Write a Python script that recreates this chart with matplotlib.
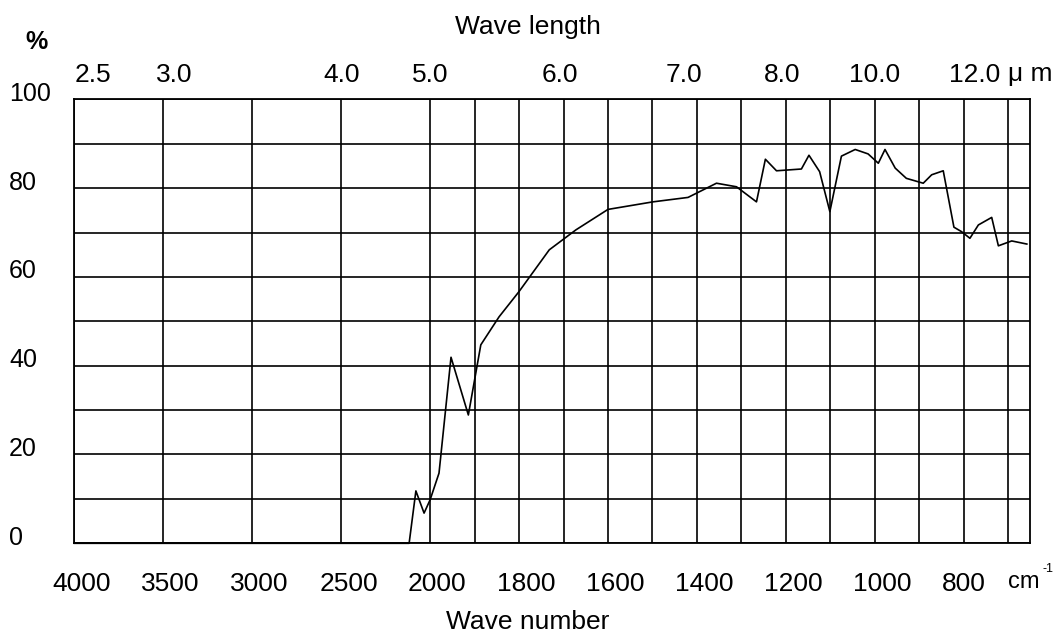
import numpy as np
import matplotlib.pyplot as plt
from matplotlib.transforms import ScaledTranslation

# IR transmission curve (wave number in cm-1, transmittance in %)
wave_number = [4000, 2118, 2080, 2034, 2000, 1980, 1953, 1914, 1886, 1845,
               1800, 1732, 1672, 1600, 1499, 1420, 1356, 1311, 1266, 1246,
               1221, 1165, 1148, 1124, 1101, 1075, 1044, 1015, 992, 977,
               954, 929, 891, 872, 846, 822, 805, 786, 767, 737,
               722, 692, 658]
transmittance = [0, 0, 11.8, 6.8, 9.8, 15.8, 41.9, 28.9, 44.7, 51.0,
                 56.7, 66.1, 70.6, 75.2, 76.9, 77.9, 81.1, 80.3, 76.9, 86.5,
                 83.9, 84.3, 87.4, 83.7, 74.7, 87.2, 88.7, 87.7, 85.6, 88.7,
                 84.5, 82.2, 81.1, 83.0, 83.9, 71.2, 70.2, 68.7, 71.7, 73.4,
                 67.0, 68.1, 67.4]

wn_ticks = [4000, 3500, 3000, 2500, 2000, 1800, 1600, 1400, 1200, 1000, 800]
wn_grid = [4000, 3500, 3000, 2500, 2000, 1900, 1800, 1700, 1600, 1500,
           1400, 1300, 1200, 1100, 1000, 900, 800, 700]
wl_ticks = [2.5, 3.0, 4.0, 5.0, 6.0, 7.0, 8.0, 10.0, 12.0]
pct_ticks = [0, 20, 40, 60, 80, 100]
pct_grid = [0, 10, 20, 30, 40, 50, 60, 70, 80, 90, 100]

# hand-placed wavelength labels sit a bit off their positions
wl_align = {2.5: 'left', 3.0: 'right', 6.0: 'right', 8.0: 'left', 12.0: 'left'}


# scale of the chart paper: 500 cm-1 per division above 2000, 200 below
def fwd(w):
    w = np.asarray(w, dtype=float)
    return np.where(w >= 2000, (w - 2000) / 500.0, (w - 2000) / 200.0)


def inv(u):
    u = np.asarray(u, dtype=float)
    return np.where(u >= 0, 2000 + 500.0 * u, 2000 + 200.0 * u)


plt.rcParams['font.family'] = ['Liberation Sans', 'DejaVu Sans']

fig = plt.figure(figsize=(10.56, 6.35), dpi=100)
ax = fig.add_axes([0.07045, 0.14441, 0.9053, 0.69921])
ax.set_xscale('function', functions=(fwd, inv))
ax.set_xlim(4000, 650)
ax.set_ylim(0, 100)

ax.plot(wave_number, transmittance, color='black', lw=1.2, clip_on=False, zorder=3)

# bottom: wave number
ax.set_xticks(wn_ticks, [str(t) for t in wn_ticks])
ax.tick_params(axis='x', which='both', length=0, pad=21, labelsize=19)
for lab in ax.get_xticklabels():
    lab.set_ha('left')
    lab.set_transform(lab.get_transform() + ScaledTranslation(-0.22, 0, fig.dpi_scale_trans))

# left: percent
ax.set_yticks(pct_ticks, [str(t) for t in pct_ticks])
ax.tick_params(axis='y', which='both', length=0, pad=47, labelsize=18)
for lab in ax.get_yticklabels():
    lab.set_ha('left')
    lab.set_transform(lab.get_transform() + ScaledTranslation(0, 0.08, fig.dpi_scale_trans))

# grid (major + minor so every division line shows)
ax.set_xticks(wn_grid, minor=True)
ax.set_yticks(pct_grid, minor=True)
ax.grid(which='both', color='black', lw=1.2)
for s in ax.spines.values():
    s.set_linewidth(1.3)

# top: wave length
ax2 = ax.twiny()
ax2.set_xscale('function', functions=(fwd, inv))
ax2.set_xlim(4000, 650)
ax2.set_xticks([1e4 / l for l in wl_ticks], [f'{l:.1f}' for l in wl_ticks])
ax2.tick_params(axis='x', which='both', length=0, pad=9, labelsize=19)
for lab, l in zip(ax2.get_xticklabels(), wl_ticks):
    lab.set_ha(wl_align.get(l, 'center'))
for s in ax2.spines.values():
    s.set_visible(False)

# units
ax.text(700, -0.1007, 'cm', transform=ax.get_xaxis_transform(),
        ha='left', va='baseline', fontsize=17)
ax.annotate('-1', xy=(700, -0.1007), xycoords=ax.get_xaxis_transform(),
            xytext=(25, 11.5), textcoords='offset points',
            ha='left', va='baseline', fontsize=9)
ax.text(700, 1.041, 'μ m', transform=ax.get_xaxis_transform(),
        ha='left', va='baseline', fontsize=19)

fig.text(0.5, 1 - 34 / 635, 'Wave length', ha='center', va='baseline', fontsize=19)
fig.text(0.5, 0.002, 'Wave number', ha='center', va='bottom', fontsize=19)
fig.text(36 / 1056, 1 - 42 / 635, '%', ha='center', va='center', fontsize=18,
         fontweight='bold', family=['Liberation Sans Narrow', 'Liberation Sans'])

fig.savefig('out.png', dpi=100)
